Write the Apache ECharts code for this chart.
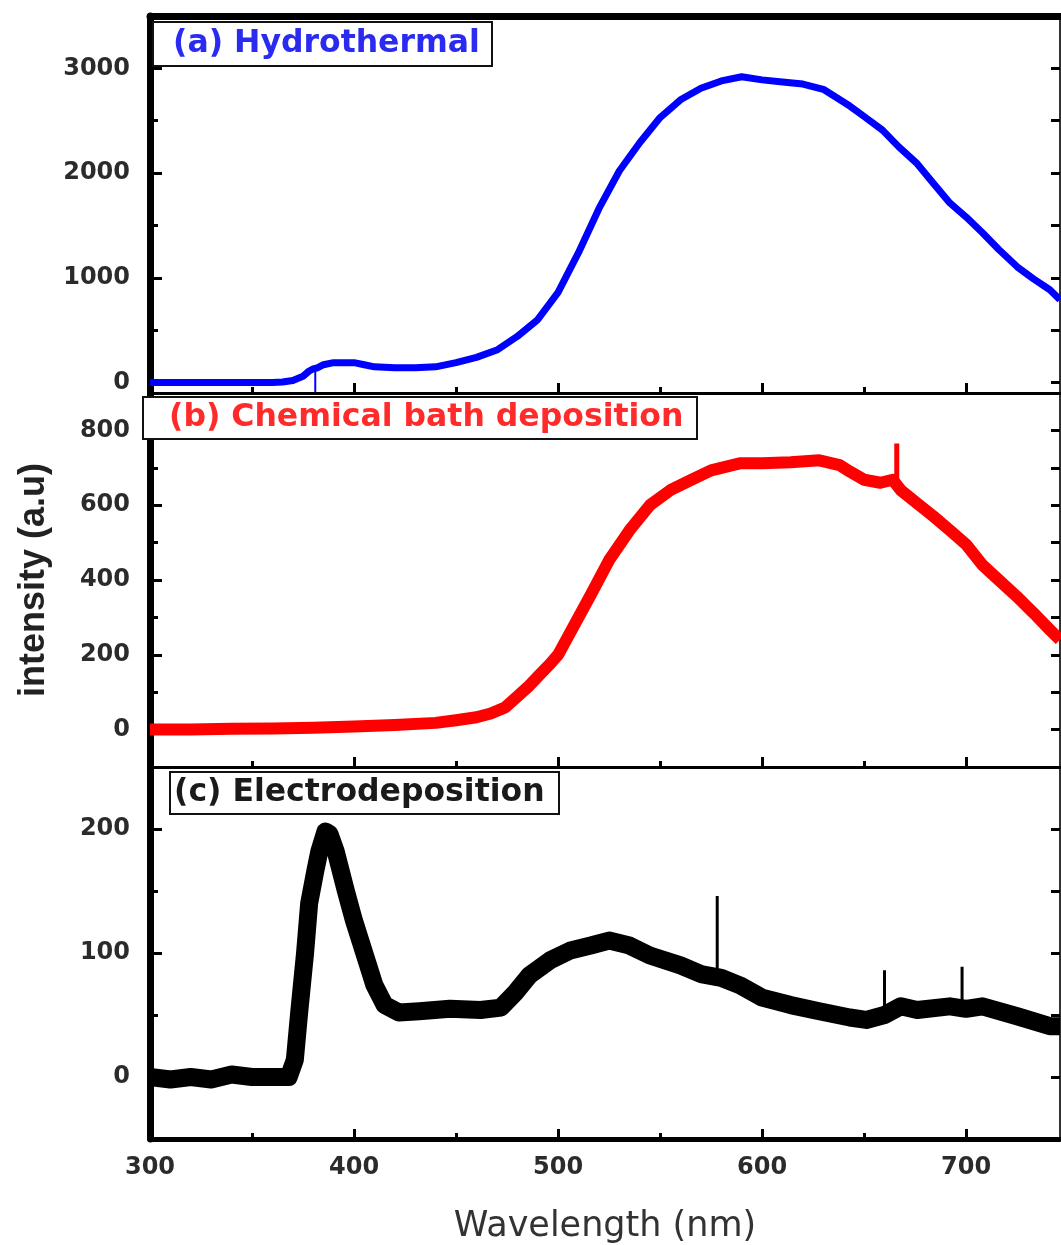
<!DOCTYPE html>
<html>
<head>
<meta charset="utf-8">
<script src="https://cdn.jsdelivr.net/npm/echarts@6/dist/echarts.min.js"></script>
<style>
  html, body { margin: 0; padding: 0; background: #fff; }
  #chart { width: 1061px; height: 1245px; }
</style>
</head>
<body>
<div id="chart"></div>
<script>
// (a) hydrothermal - blue
var wlA  = [300, 320, 340, 360, 365, 370, 375, 378, 380, 382, 385, 390, 400, 405, 410, 420, 430, 440, 450, 460, 470, 480, 490, 500, 510, 520, 530, 540, 550, 560, 570, 580, 590, 600, 610, 620, 630, 643, 650, 659, 667, 676, 684, 692, 700, 708, 716, 725, 733, 741, 746];
var intA = [0, 0, 0, 0, 5, 20, 60, 110, 130, 140, 170, 190, 190, 170, 150, 140, 140, 150, 190, 240, 310, 440, 600, 860, 1240, 1660, 2020, 2290, 2530, 2700, 2810, 2880, 2920, 2890, 2870, 2850, 2800, 2640, 2540, 2410, 2250, 2090, 1900, 1715, 1580, 1430, 1270, 1105, 990, 886, 790];
// (b) chemical bath deposition - red
var wlB  = [300, 320, 340, 360, 380, 400, 420, 440, 450, 460, 467, 474, 481, 486, 491, 496, 500, 508, 516, 525, 535, 545, 555, 565, 575, 589, 600, 614, 628, 638, 643, 650, 658, 664, 668, 676, 684, 692, 700, 708, 716, 725, 733, 741, 746];
var intB = [0, 0, 2, 3, 5, 8, 12, 18, 25, 33, 43, 59, 93, 118, 147, 175, 200, 280, 360, 453, 533, 600, 640, 667, 693, 712, 712, 715, 720, 707, 690, 668, 660, 668, 640, 605, 570, 533, 495, 440, 400, 355, 312, 267, 240];
// (c) electrodeposition - black
var wlC  = [300, 310, 320, 330, 340, 350, 360, 368, 371, 373, 376, 378, 381, 383, 386, 388, 391, 396, 400, 405, 410, 415, 422, 432, 447, 462, 472, 479, 486, 496, 506, 516, 525, 535, 545, 560, 570, 580, 589, 600, 614, 628, 643, 651, 660, 668, 676, 692, 700, 708, 725, 741, 746];
var intC = [0, -2, 0, -2, 2, 0, 0, 0, 14, 50, 100, 140, 166, 182, 198, 196, 182, 150, 126, 100, 74, 58, 52, 53, 55, 54, 56, 68, 82, 94, 102, 106, 110, 106, 98, 90, 83, 80, 74, 64, 58, 53, 48, 46, 50, 57, 54, 57, 55, 57, 49, 41, 41];

// narrow spikes: wavelength, base, top
var spikeWlA = [381], spikeBaseA = [135], spikeTopA = [-90];
var spikeWlB = [666], spikeBaseB = [665], spikeTopB = [765];
var spikeWlC = [578, 660, 698], spikeBaseC = [82, 50, 56], spikeTopC = [146, 86, 89];

var xLabels = [300, 400, 500, 600, 700];
var xMinor = [350, 450, 550, 650];
var yMajor = [[0, 1000, 2000, 3000], [0, 200, 400, 600, 800], [0, 100, 200]];
var yMinor = [[500, 1500, 2500], [100, 300, 500, 700], [50, 150]];
var yRange = [[-100, 3500], [-100, 900], [-50, 250]];

var titles = ['(a) Hydrothermal', '(b) Chemical bath deposition', '(c) Electrodeposition'];
var colors = ['#0000ff', '#ff0000', '#000000'];
var titleColors = ['#2a2af0', '#ff2a2a', '#1a1a1a'];

function pairs(xs, ys) {
  return xs.map(function (x, i) { return [x, ys[i]]; });
}
function spikes(xs, base, top) {
  var out = [];
  xs.forEach(function (x, i) {
    out.push([x, base[i]], [x, top[i]], [x, null]);
  });
  return out;
}

var labelFont = {
  fontFamily: 'DejaVu Sans', fontWeight: 'bold', fontSize: 24, color: '#2b2b2b',
  formatter: function (v) { return String(v); }
};

var grid = [
  { left: 150, right: 1, top: 16, height: 377 },
  { left: 150, right: 1, top: 393, height: 374 },
  { left: 150, right: 1, top: 767, height: 373 }
];

var xAxis = [], yAxis = [];
[0, 1, 2].forEach(function (i) {
  xAxis.push({
    type: 'value', gridIndex: i, min: 300, max: 746, position: 'bottom',
    axisLine: { show: true, onZero: false, lineStyle: { color: '#000', width: i == 2 ? 5 : 3 } },
    axisTick: { show: true, inside: true, length: 10, customValues: xLabels, lineStyle: { color: '#000', width: 3 } },
    axisLabel: i == 2 ? Object.assign({ margin: 17, customValues: xLabels }, labelFont) : { show: false },
    splitLine: { show: false },
    name: i == 2 ? 'Wavelength (nm)' : '',
    nameLocation: 'middle', nameGap: 70,
    nameTextStyle: { fontFamily: 'DejaVu Sans', fontSize: 35, color: '#333' }
  });
});
[0, 1, 2].forEach(function (i) {
  xAxis.push({
    type: 'value', gridIndex: i, min: 300, max: 746, position: 'bottom',
    axisLine: { show: false, onZero: false },
    axisTick: { show: true, inside: true, length: 6, customValues: xMinor, lineStyle: { color: '#000', width: 3 } },
    axisLabel: { show: false }, splitLine: { show: false }
  });
});
xAxis.push({
  type: 'value', gridIndex: 0, min: 300, max: 746, position: 'top',
  axisLine: { show: true, onZero: false, lineStyle: { color: '#000', width: 7 } },
  axisTick: { show: false }, axisLabel: { show: false }, splitLine: { show: false }
});

[0, 1, 2].forEach(function (i) {
  yAxis.push({
    type: 'value', gridIndex: i, min: yRange[i][0], max: yRange[i][1], position: 'left',
    axisLine: { show: true, onZero: false, lineStyle: { color: '#000', width: 7 } },
    axisTick: { show: true, inside: true, length: 12, customValues: yMajor[i], lineStyle: { color: '#000', width: 3 } },
    axisLabel: Object.assign({ margin: 20, customValues: yMajor[i] }, labelFont),
    splitLine: { show: false },
    name: i == 1 ? 'intensity (a.u)' : '',
    nameLocation: 'middle', nameGap: 98,
    nameTextStyle: { fontFamily: 'Liberation Sans', fontWeight: 'bold', fontSize: 36, color: '#222' }
  });
});
[0, 1, 2].forEach(function (i) {
  yAxis.push({
    type: 'value', gridIndex: i, min: yRange[i][0], max: yRange[i][1], position: 'left',
    axisLine: { show: false, onZero: false },
    axisTick: { show: true, inside: true, length: 8, customValues: yMinor[i], lineStyle: { color: '#000', width: 3 } },
    axisLabel: { show: false }, splitLine: { show: false }
  });
});
[0, 1, 2].forEach(function (i) {
  yAxis.push({
    type: 'value', gridIndex: i, min: yRange[i][0], max: yRange[i][1], position: 'right',
    axisLine: { show: true, onZero: false, lineStyle: { color: '#333', width: 2 } },
    axisTick: { show: true, inside: true, length: 9, customValues: yMajor[i].concat(yMinor[i]), lineStyle: { color: '#000', width: 3 } },
    axisLabel: { show: false }, splitLine: { show: false }
  });
});

var mainData = [pairs(wlA, intA), pairs(wlB, intB), pairs(wlC, intC)];
var spikeData = [spikes(spikeWlA, spikeBaseA, spikeTopA), spikes(spikeWlB, spikeBaseB, spikeTopB), spikes(spikeWlC, spikeBaseC, spikeTopC)];
var widths = [7, 12, 18];
var spikeWidths = [2, 5, 3];

var series = [];
[0, 1, 2].forEach(function (i) {
  series.push({
    type: 'line', xAxisIndex: i, yAxisIndex: i, data: mainData[i],
    showSymbol: false, animation: false,
    lineStyle: { color: colors[i], width: widths[i], join: 'round' }
  });
  series.push({
    type: 'line', xAxisIndex: i, yAxisIndex: i, data: spikeData[i],
    showSymbol: false, animation: false, connectNulls: false,
    lineStyle: { color: colors[i], width: spikeWidths[i] }
  });
});

var titlePos = [
  { left: 153, top: 22, padding: [3, 12, 3, 20] },
  { left: 143, top: 397, padding: [2, 14, 2, 26] },
  { left: 170, top: 772, padding: [2, 15, 2, 4] }
];
var title = titles.map(function (t, i) {
  return {
    text: t, left: titlePos[i].left, top: titlePos[i].top, padding: titlePos[i].padding,
    borderColor: '#111', borderWidth: 2, backgroundColor: '#fff',
    textStyle: { fontFamily: 'DejaVu Sans', fontWeight: 'bold', fontSize: 31.5, color: titleColors[i], lineHeight: 38 }
  };
});

var chart = echarts.init(document.getElementById('chart'));
chart.setOption({
  backgroundColor: '#fff',
  animation: false,
  title: title,
  grid: grid,
  xAxis: xAxis,
  yAxis: yAxis,
  series: series
});
</script>
</body>
</html>
